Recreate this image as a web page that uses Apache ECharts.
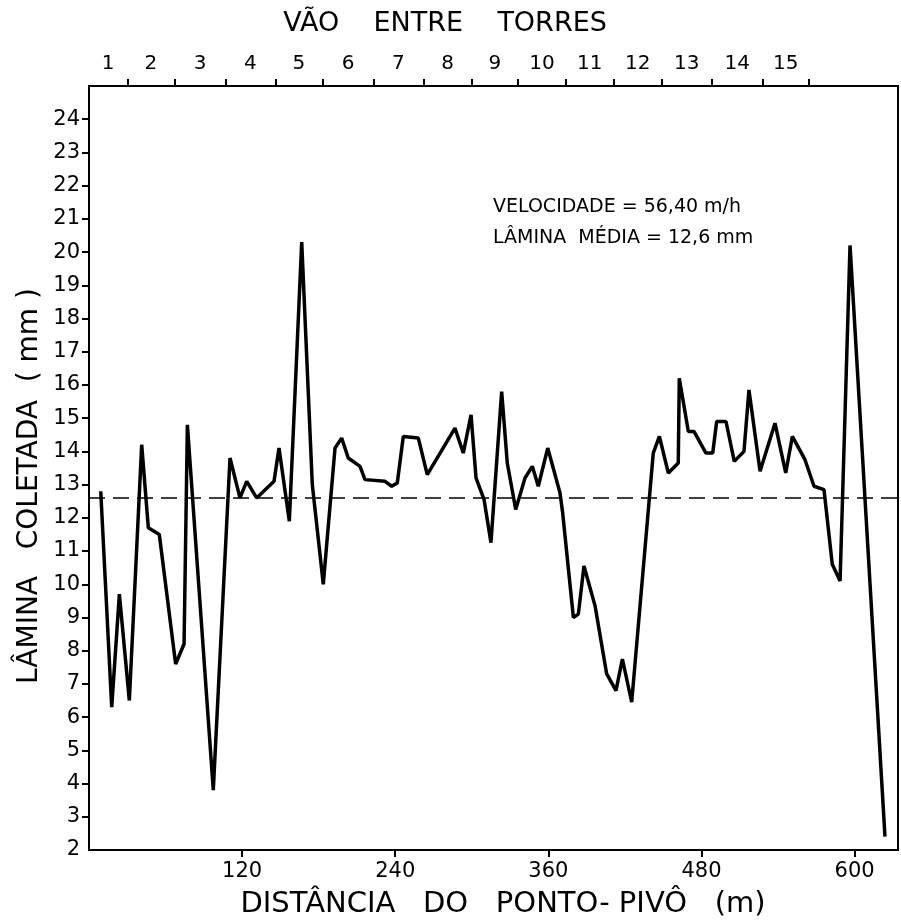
<!DOCTYPE html>
<html>
<head>
<meta charset="utf-8">
<script src="https://cdn.jsdelivr.net/npm/echarts@6/dist/echarts.min.js"></script>
<style>
  html, body { margin: 0; padding: 0; background: #fff; }
  #lamina { width: 901px; height: 923px; }
</style>
</head>
<body>
<div id="lamina"></div>
<script>
// distancia do ponto-pivo (m) e lamina coletada (mm)
var distM = [9.2, 17.8, 23.8, 31.6, 41.3, 46.5, 55.1, 67.9, 74.5, 77.1,
  97.4, 110.5, 118.3, 123.6, 131.4, 145.0, 148.9, 157.0, 166.7, 175.0,
  183.6, 192.8, 198.0, 203.2, 212.4, 216.3, 232.0, 237.2, 241.6, 246.3,
  258.1, 265.1, 286.8, 293.3, 299.4, 303.3, 309.6, 315.0, 323.4, 327.8,
  334.4, 341.7, 347.4, 352.1, 359.5, 369.1, 371.2, 379.6, 383.5, 387.9,
  396.6, 405.7, 413.0, 418.0, 425.3, 442.2, 447.0, 454.0, 461.8, 462.6,
  469.7, 474.1, 483.5, 488.8, 491.9, 499.2, 505.7, 513.3, 517.2, 525.9,
  537.6, 546.0, 551.2, 561.1, 568.2, 576.0, 582.5, 588.6, 596.4, 623.8];
var lamina = [12.8, 6.3, 9.7, 6.5, 14.2, 11.7, 11.5, 7.6, 8.2, 14.8,
  3.8, 13.8, 12.6, 13.1, 12.6, 13.1, 14.1, 11.9, 20.3, 13.0,
  10.0, 14.1, 14.4, 13.8, 13.55, 13.15, 13.1, 12.95, 13.05, 14.45,
  14.4, 13.3, 14.7, 13.95, 15.1, 13.2, 12.55, 11.25, 15.8, 13.65,
  12.25, 13.2, 13.55, 12.95, 14.1, 12.75, 12.15, 9.0, 9.1, 10.55,
  9.35, 7.3, 6.8, 7.75, 6.45, 13.95, 14.45, 13.35, 13.65, 16.2,
  14.6, 14.6, 13.95, 13.95, 14.9, 14.9, 13.7, 14.0, 15.85, 13.4,
  14.85, 13.35, 14.45, 13.75, 12.95, 12.85, 10.6, 10.1, 20.2, 2.4];
var laminaMedia = 12.6;

// posicao das torres (m) e vaos entre elas
var towerPos = [30, 67, 107, 146, 183, 223, 262, 300, 336, 374, 411, 449, 488, 528, 564];
var spanLabels = ['1', '2', '3', '4', '5', '6', '7', '8', '9', '10', '11', '12', '13', '14', '15'];

var xTicks = [120, 240, 360, 480, 600];
var yTicks = [2, 3, 4, 5, 6, 7, 8, 9, 10, 11, 12, 13, 14, 15, 16, 17, 18, 19, 20, 21, 22, 23, 24];

var FONT = 'DejaVu Sans';

var spanMid = [];
for (var i = 0; i < towerPos.length; i++) {
  var a = i === 0 ? 0 : towerPos[i - 1];
  spanMid.push((a + towerPos[i]) / 2);
}
var points = [];
for (var j = 0; j < distM.length; j++) {
  points.push([distM[j], lamina[j]]);
}

var chart = echarts.init(document.getElementById('lamina'));
var option = {
  animation: false,
  backgroundColor: '#fff',
  grid: { left: 89, right: 3, top: 86, bottom: 73, show: true, borderColor: '#000', borderWidth: 2 },
  graphic: [
    { type: 'text', x: 445, y: 24, style: { text: 'VÃO    ENTRE    TORRES', font: '27px "DejaVu Sans"', fill: '#000', textAlign: 'center', textVerticalAlign: 'middle' } },
    { type: 'text', x: 30, y: 486, rotation: Math.PI / 2, style: { text: 'LÂMINA   COLETADA  ( mm )', font: '28px "DejaVu Sans"', fill: '#000', textAlign: 'center', textVerticalAlign: 'middle' } },
    { type: 'text', x: 503, y: 904, style: { text: 'DISTÂNCIA   DO   PONTO- PIVÔ   (m)', font: '29px "DejaVu Sans"', fill: '#000', textAlign: 'center', textVerticalAlign: 'middle' } },
    { type: 'text', x: 493, y: 207, style: { text: 'VELOCIDADE = 56,40 m/h', font: '19px "DejaVu Sans"', fill: '#000', textAlign: 'left', textVerticalAlign: 'middle' } },
    { type: 'text', x: 493, y: 238, style: { text: 'LÂMINA  MÉDIA = 12,6 mm', font: '19px "DejaVu Sans"', fill: '#000', textAlign: 'left', textVerticalAlign: 'middle' } }
  ],
  xAxis: [
    {
      type: 'value', position: 'bottom', min: 0, max: 634,
      axisLine: { show: true, lineStyle: { color: '#000', width: 2 } },
      axisTick: { show: true, customValues: xTicks, length: 7, lineStyle: { color: '#000', width: 2 } },
      axisLabel: { customValues: xTicks, color: '#000', fontSize: 21, fontFamily: FONT, margin: 11 },
      splitLine: { show: false }
    },
    {
      type: 'value', position: 'top', min: 0, max: 634,
      axisLine: { show: true, lineStyle: { color: '#000', width: 2 } },
      axisTick: { show: true, customValues: towerPos, length: 7, lineStyle: { color: '#000', width: 2 } },
      axisLabel: {
        customValues: spanMid, color: '#000', fontSize: 20, fontFamily: FONT, margin: 12,
        formatter: function (v) {
          var best = 0;
          for (var k = 1; k < spanMid.length; k++) {
            if (Math.abs(spanMid[k] - v) < Math.abs(spanMid[best] - v)) best = k;
          }
          return spanLabels[best];
        }
      },
      splitLine: { show: false }
    }
  ],
  yAxis: {
    type: 'value', min: 2, max: 25,
    axisLine: { show: true, lineStyle: { color: '#000', width: 2 } },
    axisTick: { show: true, customValues: yTicks.slice(1), length: 7, lineStyle: { color: '#000', width: 2 } },
    axisLabel: { customValues: yTicks, color: '#000', fontSize: 21, fontFamily: FONT, margin: 9 },
    splitLine: { show: false }
  },
  series: [
    {
      type: 'line',
      data: points,
      symbol: 'none',
      lineStyle: { color: '#000', width: 3.5 },
      markLine: {
        silent: true,
        symbol: 'none',
        label: { show: false },
        lineStyle: { color: '#000', width: 1.5, type: [16, 8] },
        data: [{ yAxis: laminaMedia }]
      },
      z: 5
    }
  ]
};
chart.setOption(option);
</script>
</body>
</html>
